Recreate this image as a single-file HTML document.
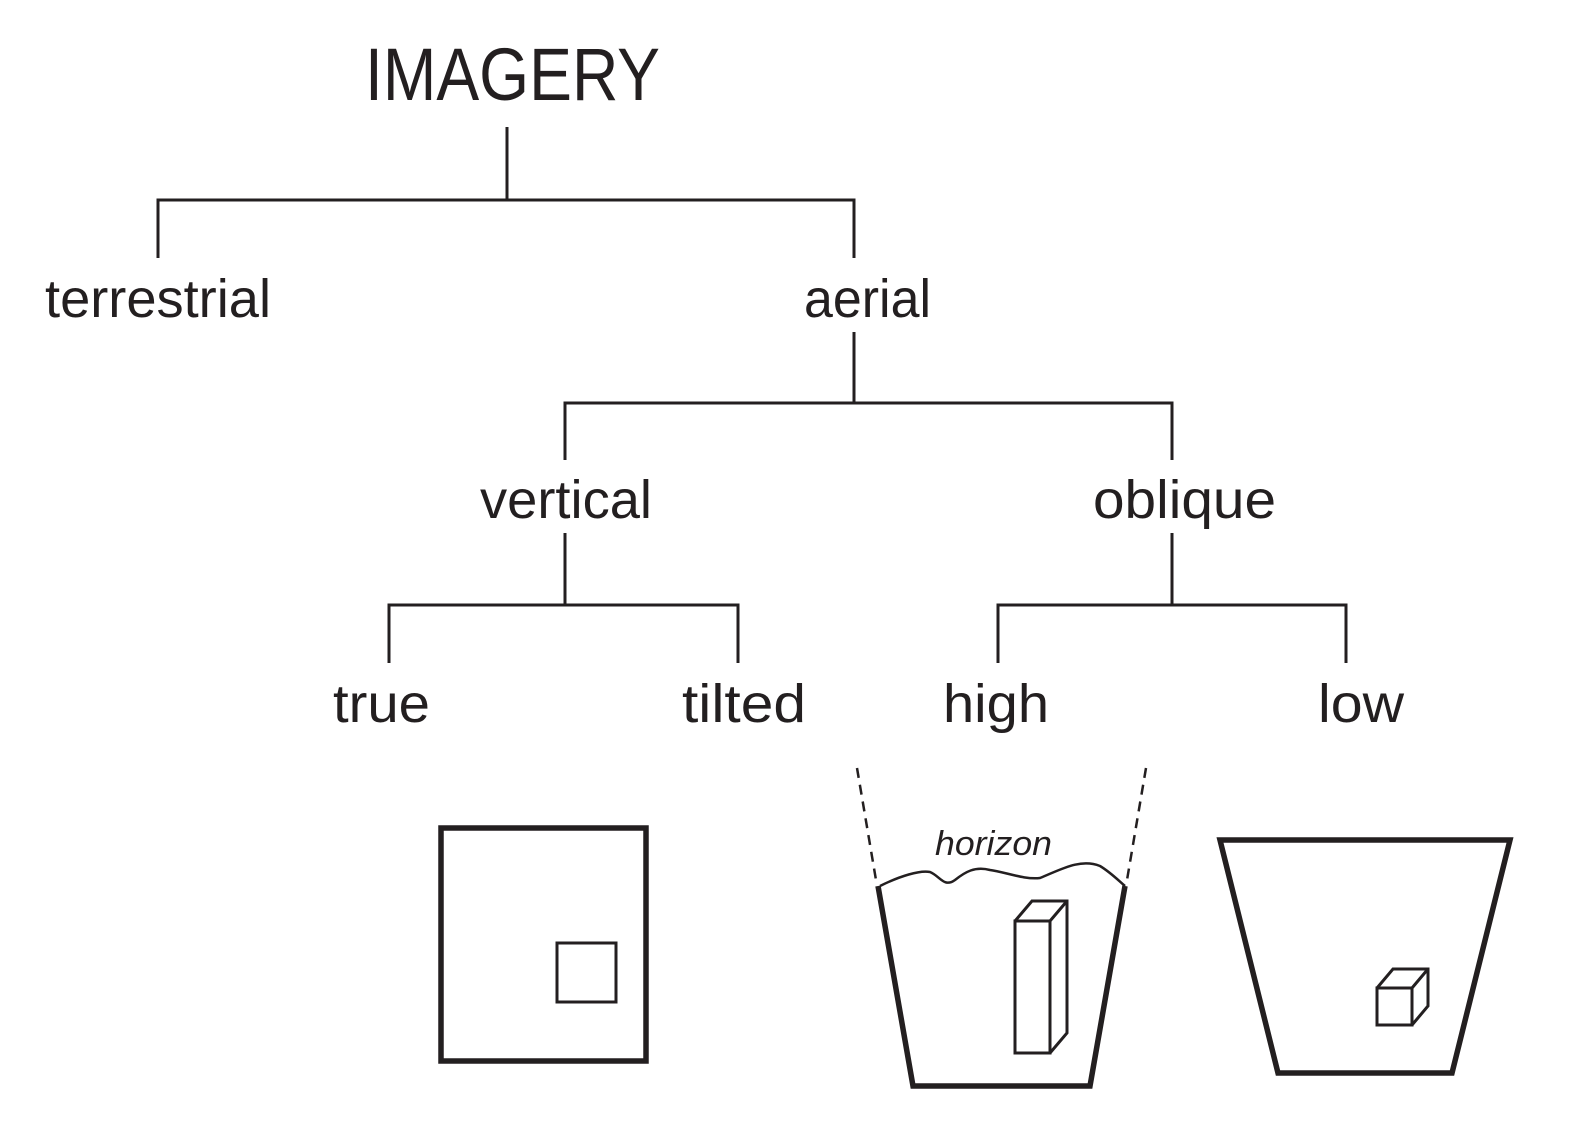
<!DOCTYPE html>
<html><head><style>html,body{margin:0;padding:0;background:#fff}svg{display:block}</style></head>
<body>
<svg width="1575" height="1130" viewBox="0 0 1575 1130" xmlns="http://www.w3.org/2000/svg">
<g font-family="Liberation Sans, sans-serif" fill="#231f20">
<text x="365" y="100" font-size="74" textLength="295" lengthAdjust="spacingAndGlyphs">IMAGERY</text>
<text x="45" y="317" font-size="54" textLength="226" lengthAdjust="spacingAndGlyphs">terrestrial</text>
<text x="804" y="317" font-size="54" textLength="127" lengthAdjust="spacingAndGlyphs">aerial</text>
<text x="480" y="518" font-size="54" textLength="172" lengthAdjust="spacingAndGlyphs">vertical</text>
<text x="1093" y="518" font-size="54" textLength="183" lengthAdjust="spacingAndGlyphs">oblique</text>
<text x="333" y="722" font-size="54" textLength="97" lengthAdjust="spacingAndGlyphs">true</text>
<text x="682" y="722" font-size="54" textLength="124" lengthAdjust="spacingAndGlyphs">tilted</text>
<text x="943" y="722" font-size="54" textLength="106" lengthAdjust="spacingAndGlyphs">high</text>
<text x="1318" y="722" font-size="54" textLength="86" lengthAdjust="spacingAndGlyphs">low</text>
<text x="935" y="855" font-size="34" font-style="italic" textLength="117" lengthAdjust="spacingAndGlyphs">horizon</text>
</g>
<g stroke="#231f20" stroke-width="3" fill="none">
<path d="M507 127V200M158 258V200H854V258"/>
<path d="M854 332V403M565 460V403H1172V460"/>
<path d="M565 533V605M389 663V605H738V663"/>
<path d="M1172 533V605M998 663V605H1346V663"/>
<path d="M857 768L876 880M1146 768L1127 880" stroke-dasharray="10,7" stroke-width="2.5"/>
<path d="M880 886C900 876 920 870 930 872C940 876 944 888 955 880C965 872 975 866 990 870C1005 872 1025 880 1040 878C1060 870 1080 858 1100 866C1110 872 1118 880 1125 886" stroke-width="2.5"/>
<rect x="1015" y="921" width="35" height="132"/>
<path d="M1015 921L1032 901H1067V1033L1050 1053M1050 921L1067 901"/>
<rect x="1377" y="988" width="35" height="37"/>
<path d="M1377 988L1393 969H1428V1006L1412 1025M1412 988L1428 969"/>
<rect x="557" y="943" width="59" height="59"/>
</g>
<g stroke="#231f20" stroke-width="5.5" fill="none">
<path d="M878 886L913 1086H1090L1125 886"/>
<path d="M1220 840H1510L1452 1073H1278Z"/>
<rect x="441" y="828" width="205" height="233"/>
</g>
</svg>
</body></html>
